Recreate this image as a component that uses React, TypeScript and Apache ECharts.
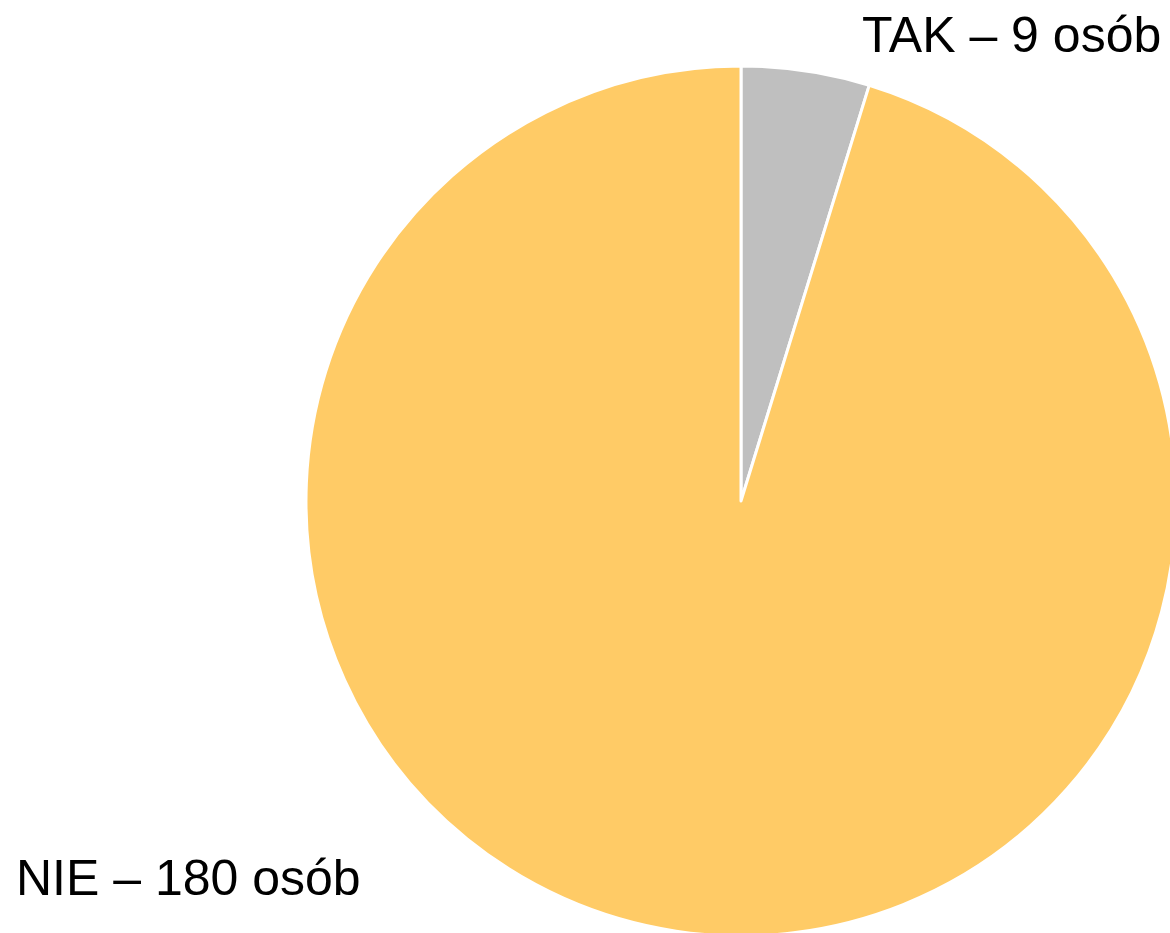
import React, { useEffect, useRef } from "react";
import * as echarts from "echarts";

const categories = ["TAK", "NIE"];
const values = [9, 180];
const labelTexts = ["TAK – 9 osób", "NIE – 180 osób"];
const colors = ["#bfbfbf", "#ffcb66"];
const labelPositions = [
  { x: 862, y: 35 },
  { x: 16, y: 878 },
];

export default function App() {
  const ref = useRef<HTMLDivElement>(null);
  useEffect(() => {
    if (!ref.current) return;
    const chart = echarts.init(ref.current, null, { renderer: "svg" });
    chart.setOption({
      animation: false,
      backgroundColor: "#ffffff",
      series: [
        {
          type: "pie",
          center: [741, 501],
          radius: [0, 435],
          startAngle: 90,
          clockwise: true,
          data: categories.map((c, i) => ({
            name: c,
            value: values[i],
            itemStyle: { color: colors[i] },
          })),
          itemStyle: { borderColor: "#ffffff", borderWidth: 3 },
          label: {
            show: true,
            formatter: (p: any) => labelTexts[p.dataIndex],
            fontFamily: "Liberation Sans",
            fontSize: 50,
            color: "#000000",
          },
          labelLine: { show: false },
          labelLayout: (p: any) => ({
            x: labelPositions[p.dataIndex].x,
            y: labelPositions[p.dataIndex].y,
            align: "left",
            verticalAlign: "middle",
          }),
          emphasis: { disabled: true },
        },
      ],
    });
    return () => chart.dispose();
  }, []);
  return (
    <div
      ref={ref}
      style={{ position: "fixed", left: 0, top: 0, width: 1170, height: 933 }}
    />
  );
}
